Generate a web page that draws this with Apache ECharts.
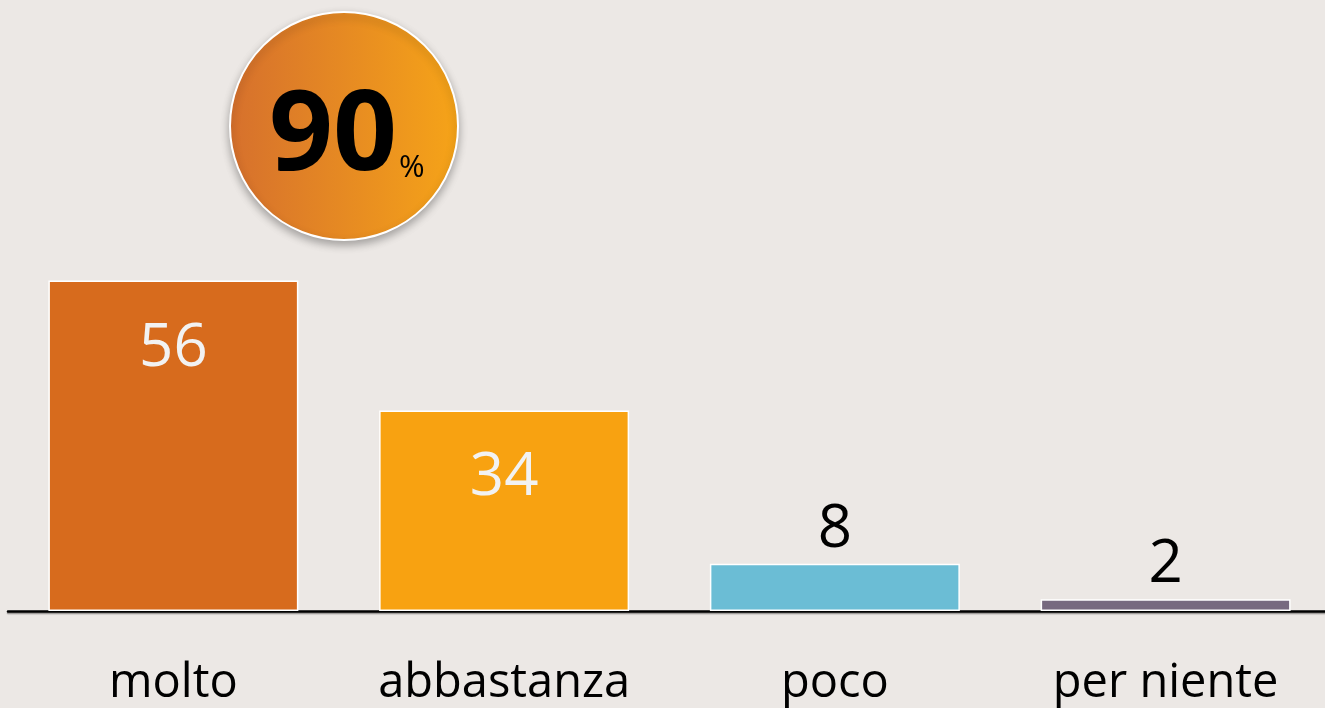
<!DOCTYPE html>
<html>
<head>
<meta charset="utf-8">
<script src="https://cdn.jsdelivr.net/npm/echarts@6/dist/echarts.min.js"></script>
<style>
  html, body { margin: 0; padding: 0; background: #ECE8E5; }
  #chart { width: 1325px; height: 708px; }
</style>
</head>
<body>
<div id="chart"></div>
<script>
// dati
const categories = ['molto', 'abbastanza', 'poco', 'per niente'];
const values = [56, 34, 8, 2];
const barColors = ['#D76B1D', '#F8A211', '#6BBDD5', '#776A80'];
const totalPositive = 90;   // molto + abbastanza

const chart = echarts.init(document.getElementById('chart'));

const option = {
  backgroundColor: '#ECE8E5',
  grid: { left: 8, width: 1323, top: 21, bottom: 97, outerBoundsMode: 'none' },
  xAxis: {
    type: 'category',
    data: categories,
    axisTick: { show: false },
    axisLine: {
      lineStyle: { color: '#000', width: 2.5, shadowColor: 'rgba(0,0,0,0.35)', shadowOffsetY: 1.5, shadowBlur: 1 }
    },
    axisLabel: {
      color: '#000',
      fontSize: 47,
      fontFamily: 'Open Sans',
      margin: 49
    }
  },
  yAxis: {
    type: 'value',
    min: 0,
    max: 100,
    show: false
  },
  series: [{
    type: 'bar',
    barWidth: 250,
    data: values.map((v, i) => ({
      value: v,
      itemStyle: { color: barColors[i] },
      // le barre grandi hanno l'etichetta dentro, in bianco
      label: v > 20
        ? { position: 'insideTop', distance: 38, color: '#F2F2F2' }
        : { position: 'top', distance: 4, color: '#000' }
    })),
    itemStyle: { borderColor: '#fff', borderWidth: 1.5 },
    label: {
      show: true,
      fontSize: 60,
      fontFamily: 'Open Sans'
    }
  }],
  graphic: [{
    type: 'group',
    left: 229,
    top: 11,
    children: [{
      type: 'circle',
      shape: { cx: 115, cy: 115, r: 114 },
      style: {
        fill: new echarts.graphic.LinearGradient(0, 0, 1, 0, [
          { offset: 0, color: '#D6702D' },
          { offset: 1, color: '#F6A418' }
        ]),
        stroke: '#fff',
        lineWidth: 2,
        shadowBlur: 8,
        shadowOffsetY: 4,
        shadowColor: 'rgba(0,0,0,0.3)'
      }
    }, {
      type: 'text',
      x: 40,
      y: 71,
      style: {
        text: '{a|' + totalPositive + '}{b|%}',
        rich: {
          a: { fontSize: 112, fontWeight: 'bold', fontFamily: 'Open Sans', fill: '#000' },
          b: { fontSize: 31, fontFamily: 'Open Sans', fill: '#000', verticalAlign: 'bottom', padding: [0, 0, 10, 2] }
        }
      }
    }]
  }]
};

chart.setOption(option);
</script>
</body>
</html>
